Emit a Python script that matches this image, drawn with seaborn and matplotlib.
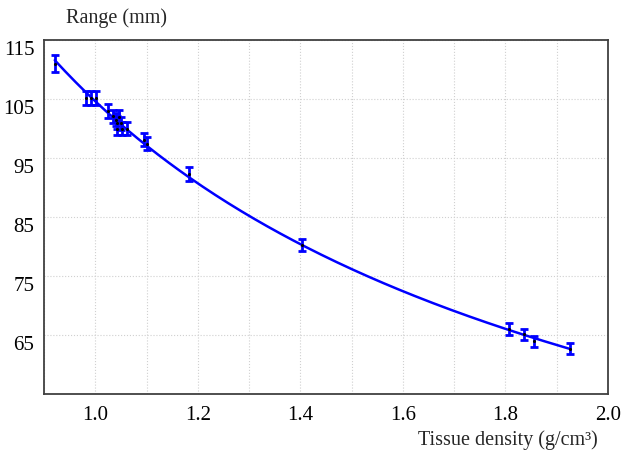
import numpy as np
import pandas as pd
import matplotlib
matplotlib.use("Agg")
import matplotlib.pyplot as plt
from matplotlib.ticker import MultipleLocator
import seaborn as sns

density = [0.921, 0.982, 0.992, 1.001, 1.024, 1.035, 1.040, 1.042, 1.047,
           1.050, 1.042, 1.052, 1.061, 1.096, 1.101, 1.182, 1.404, 1.807,
           1.836, 1.856, 1.926]
range_mm = [111.0, 105.1, 105.1, 105.1, 102.9, 102.1, 101.5, 101.0, 102.0,
            100.9, 100.0, 100.0, 100.0, 98.1, 97.4, 92.3, 80.3, 66.0,
            65.1, 63.9, 62.7]
range_err = [1.5, 1.2, 1.2, 1.2, 1.2, 1.1, 1.1, 1.1, 1.1,
             1.1, 1.1, 1.1, 1.1, 1.1, 1.1, 1.2, 1.0, 1.0,
             1.0, 1.0, 1.0]

y_ticks = [65, 75, 85, 95, 105, 115]

sns.set_style("white")
plt.rcParams['font.family'] = ['Liberation Serif', 'DejaVu Serif']

df = pd.DataFrame({'density': density, 'range': range_mm, 'err': range_err})

# power-law fit  R = a * rho^b
b, log_a = np.polyfit(np.log(df['density']), np.log(df['range']), 1)
fit_x = np.linspace(df['density'].min(), df['density'].max(), 200)
fit_df = pd.DataFrame({'density': fit_x, 'range': np.exp(log_a) * fit_x ** b})

fig = plt.figure(figsize=(6.22, 4.52), dpi=100)
ax = fig.add_axes([44 / 622, 1 - 395 / 452, (608 - 44) / 622, (395 - 41) / 452])

sns.lineplot(data=fit_df, x='density', y='range', color='#0000ff', linewidth=1.8, ax=ax)
ax.errorbar(df['density'], df['range'], yerr=df['err'], fmt='none',
            ecolor='#0000ff', elinewidth=2.0, capsize=2.8, capthick=2.0, zorder=3)
sns.scatterplot(data=df, x='density', y='range', color='black', s=5,
                linewidth=0, ax=ax, zorder=4)

ax.set_xlim(0.9, 2.0)
ax.set_ylim(55, 115)
ax.xaxis.set_major_locator(MultipleLocator(0.2))
ax.xaxis.set_minor_locator(MultipleLocator(0.1))
ax.set_yticks(y_ticks)
ax.set_xticklabels([f"{t:.1f}" for t in ax.get_xticks()])
ax.grid(True, which='both', color='#d0d0d0', linestyle=':', linewidth=0.8)
ax.tick_params(which='both', length=0, labelsize=15, colors='black')
ax.tick_params(axis='x', pad=8)
ax.tick_params(axis='y', pad=7)
for lab in ax.get_yticklabels():
    lab.set_verticalalignment('top')

for s in ax.spines.values():
    s.set_color('#404040')
    s.set_linewidth(1.3)

ax.set_xlabel('')
ax.set_ylabel('')
fig.text(117 / 622, 1 - 18 / 452, 'Range (mm)', ha='center', va='center', fontsize=14.5)
fig.text(598 / 622, 1 - 445 / 452, 'Tissue density (g/cm³)', ha='right', va='baseline', fontsize=14.5)

fig.savefig('out.png', dpi=100)
